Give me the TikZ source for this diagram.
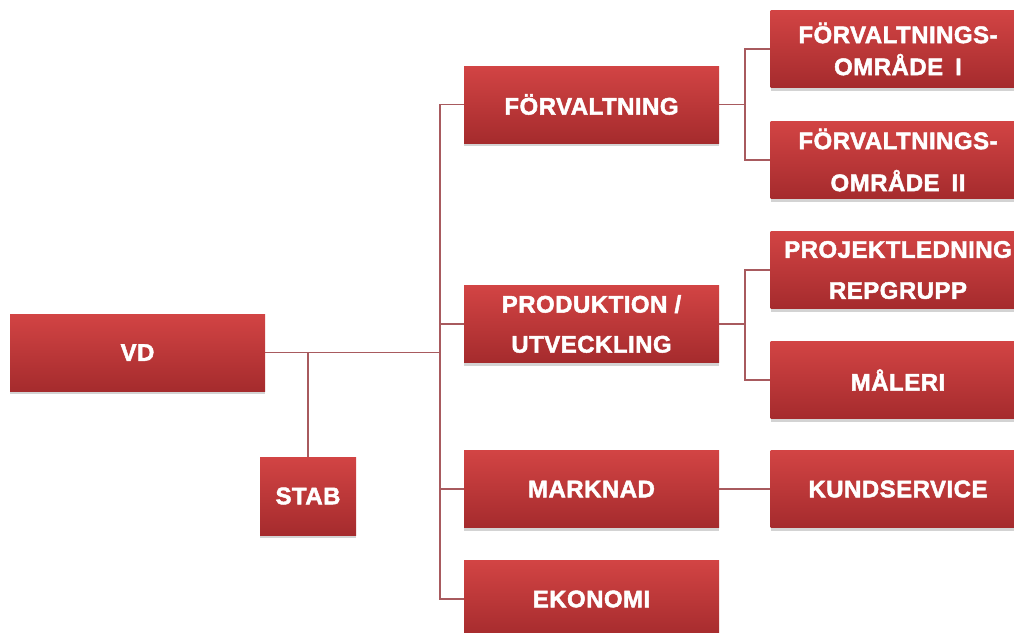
\documentclass[tikz,border=0pt]{standalone}
\usepackage{fontspec}
\setmainfont{Liberation Sans}
\newfontfamily\boxfont[LetterSpace=2, BoldFeatures={FakeBold=2}]{Liberation Sans}
\usetikzlibrary{shadows}
\definecolor{boxtop}{HTML}{D24444}
\definecolor{boxbot}{HTML}{A52B2D}
\definecolor{linecol}{HTML}{A85A5E}
\tikzset{
  orgbox/.style={rectangle, top color=boxtop, bottom color=boxbot, draw=none,
    minimum width=255pt, minimum height=77pt, inner sep=0pt, align=center,
    text=white, font=\boxfont\bfseries\fontsize{24}{38}\selectfont,
    drop shadow={opacity=0.35, shadow xshift=0pt, shadow yshift=-3pt}},
  conn/.style={draw=linecol, line width=1.5pt}
}
\begin{document}
\begin{tikzpicture}[x=1pt,y=-1pt]
\useasboundingbox (0,0) rectangle (1014,632);
% boxes
\node[orgbox] (VD) at (137.5,352.5) {VD};
\node[orgbox, minimum width=96pt, minimum height=78pt] (STAB) at (308,496) {STAB};
\node[orgbox] (FORV) at (591.5,104.5) {FÖRVALTNING};
\node[orgbox, font=\boxfont\bfseries\fontsize{24}{40}\selectfont] (PROD) at (591.5,324) {PRODUKTION /\\UTVECKLING};
\node[orgbox] (MARK) at (591.5,489) {MARKNAD};
\node[orgbox] (EKON) at (591.5,599) {EKONOMI};
\node[orgbox, font=\boxfont\bfseries\fontsize{24}{32}\selectfont] (FO1) at (898,49) {FÖRVALTNINGS-\\OMRÅDE\hspace{0.5em}I};
\node[orgbox, font=\boxfont\bfseries\fontsize{24}{42}\selectfont] (FO2) at (898,160) {FÖRVALTNINGS-\\OMRÅDE\hspace{0.5em}II};
\node[orgbox, font=\boxfont\bfseries\fontsize{24}{41}\selectfont] (PROJ) at (898,270) {PROJEKTLEDNING\\REPGRUPP};
\node[orgbox] (MAL) at (898,380) {MÅLERI};
\node[orgbox] (KUND) at (898,489) {KUNDSERVICE};
% junctions
\coordinate (t) at (440,352.5);
\coordinate (f) at (745,104.5);
\coordinate (p) at (745,324);
% connectors
\draw[conn] (VD.east) -- (t);
\draw[conn] (STAB.north) -- (STAB.north |- VD.east);
\draw[conn] (t) |- (FORV.west);
\draw[conn] (t) |- (PROD.west);
\draw[conn] (t) |- (MARK.west);
\draw[conn] (t) |- (EKON.west);
\draw[conn] (FORV.east) -- (f);
\draw[conn] (f) |- (FO1.west);
\draw[conn] (f) |- (FO2.west);
\draw[conn] (PROD.east) -- (p);
\draw[conn] (p) |- (PROJ.west);
\draw[conn] (p) |- (MAL.west);
\draw[conn] (MARK.east) -- (KUND.west);
\end{tikzpicture}
\end{document}
